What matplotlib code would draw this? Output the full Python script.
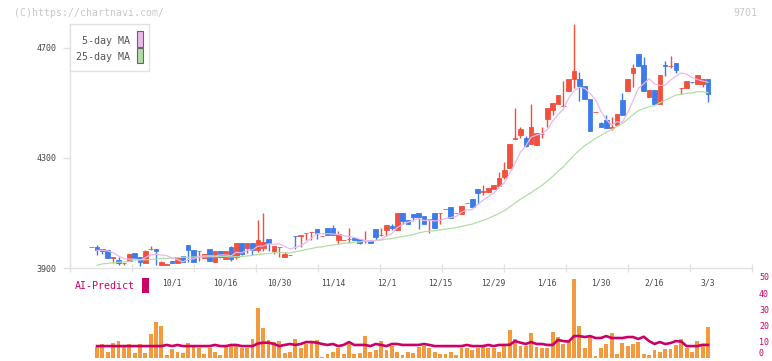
import matplotlib
matplotlib.use("Agg")
import matplotlib.pyplot as plt
import matplotlib.transforms as mtransforms
from matplotlib.patches import Rectangle
import numpy as np
import pandas as pd

# ---------------- data ----------------
opens = [3976, 3976, 3968, 3964, 3936, 3928, 3918, 3924, 3953, 3939,
         3918, 3968, 3969, 3911, 3912, 3924, 3918, 3942, 3982, 3964,
         3960, 3936, 3968, 3922, 3961, 3933, 3975, 3940, 3990, 3973,
         3990, 3964, 3974, 4004, 3962, 3976, 3940, 3948, 4017, 4017,
         4027, 4031, 4040, 4016, 4046, 4046, 4002, 4000, 4006, 4009,
         4004, 4000, 4000, 4040, 4020, 4038, 4052, 4038, 4099, 4073,
         4095, 4099, 4088, 4078, 4099, 4098, 4113, 4120, 4098, 4097,
         4135, 4149, 4186, 4177, 4175, 4186, 4196, 4230, 4263, 4370,
         4383, 4371, 4349, 4345, 4387, 4440, 4472, 4495, 4489, 4543,
         4585, 4587, 4562, 4513, 4466, 4425, 4436, 4410, 4421, 4509,
         4543, 4607, 4676, 4636, 4521, 4545, 4495, 4637, 4633, 4643,
         4554, 4553, 4576, 4568, 4568, 4588]
highs = [3978, 3982, 3968, 3964, 3939, 3939, 3919, 3952, 3955, 3939,
         3964, 3979, 3969, 3924, 3914, 3924, 3939, 3942, 3982, 3964,
         3961, 3950, 3968, 3961, 3961, 3961, 3979, 3990, 3990, 3990,
         3990, 4074, 4098, 4004, 3981, 3977, 3959, 3949, 4017, 4019,
         4028, 4032, 4040, 4017, 4046, 4055, 4033, 4001, 4046, 4009,
         4004, 4033, 4000, 4040, 4046, 4055, 4058, 4099, 4099, 4073,
         4095, 4099, 4088, 4079, 4099, 4099, 4114, 4120, 4099, 4124,
         4136, 4149, 4186, 4200, 4189, 4200, 4247, 4284, 4349, 4481,
         4412, 4378, 4495, 4389, 4411, 4480, 4498, 4530, 4578, 4585,
         4785, 4610, 4562, 4513, 4467, 4429, 4457, 4450, 4458, 4534,
         4585, 4639, 4676, 4665, 4545, 4545, 4599, 4650, 4668, 4643,
         4555, 4578, 4576, 4599, 4588, 4588]
lows = [3976, 3947, 3951, 3936, 3919, 3911, 3911, 3924, 3934, 3907,
        3918, 3967, 3911, 3911, 3911, 3917, 3918, 3922, 3922, 3922,
        3925, 3936, 3925, 3922, 3936, 3933, 3925, 3933, 3946, 3954,
        3947, 3958, 3962, 3962, 3950, 3940, 3940, 3948, 3970, 3976,
        4000, 4000, 4005, 4016, 4020, 4021, 3987, 4000, 3991, 4002,
        3987, 3991, 3991, 4000, 4015, 4015, 4038, 4038, 4061, 4061,
        4069, 4040, 4059, 4028, 4045, 4061, 4113, 4080, 4098, 4097,
        4135, 4120, 4131, 4164, 4175, 4186, 4196, 4222, 4263, 4370,
        4372, 4338, 4349, 4345, 4371, 4411, 4454, 4495, 4489, 4543,
        4552, 4506, 4513, 4397, 4466, 4411, 4408, 4400, 4414, 4457,
        4543, 4557, 4633, 4543, 4521, 4495, 4495, 4596, 4625, 4607,
        4532, 4553, 4570, 4568, 4557, 4503]
closes = [3978, 3965, 3960, 3936, 3939, 3917, 3919, 3950, 3936, 3922,
          3961, 3969, 3962, 3921, 3913, 3917, 3939, 3922, 3965, 3922,
          3961, 3950, 3925, 3961, 3940, 3961, 3933, 3990, 3950, 3990,
          3965, 4000, 3993, 3990, 3981, 3977, 3950, 3949, 4015, 4019,
          4028, 4032, 4027, 4017, 4020, 4021, 4023, 4001, 4007, 4002,
          3991, 4001, 3991, 4013, 4021, 4055, 4045, 4099, 4071, 4061,
          4085, 4085, 4059, 4079, 4045, 4099, 4114, 4080, 4099, 4124,
          4136, 4120, 4171, 4178, 4189, 4200, 4225, 4255, 4349, 4371,
          4403, 4342, 4411, 4389, 4388, 4480, 4498, 4530, 4490, 4585,
          4614, 4561, 4513, 4397, 4467, 4411, 4408, 4411, 4458, 4457,
          4585, 4628, 4633, 4543, 4545, 4495, 4599, 4635, 4634, 4618,
          4555, 4578, 4574, 4599, 4588, 4532]

# moving-average values at the start of the window (history before the first candle)
ma5_head = [3964, 3964, 3962]
ma25_head = [3910, 3915, 3917, 3919, 3921, 3922, 3924, 3929, 3930, 3930,
             3931, 3933, 3935, 3935, 3936, 3937, 3939, 3939, 3940, 3940,
             3940, 3941, 3941]

# volume and AI-Predict (from the 2nd candle onward)
volume = [6.4, 8.5, 3.5, 9.1, 10.3, 7.2, 8.5, 2.9, 8.5, 2.9,
          14.7, 22.1, 19.6, 1.7, 5.4, 3.5, 2.9, 9.1, 7.2, 6.0,
          2.3, 6.0, 3.5, 1.7, 6.6, 7.9, 7.2, 6.0, 6.0, 11.6,
          30.8, 18.4, 11.0, 9.7, 10.3, 2.9, 3.5, 11.6, 6.0, 8.5,
          9.7, 11.0, 0.4, 2.3, 3.5, 6.0, 2.3, 8.5, 2.3, 2.9,
          13.4, 3.5, 4.8, 10.3, 4.8, 7.2, 3.5, 1.7, 3.5, 2.9,
          6.6, 7.2, 6.0, 3.5, 2.3, 2.3, 3.5, 1.7, 6.0, 6.0,
          4.8, 6.0, 7.2, 6.0, 6.0, 3.5, 8.5, 17.1, 11.6, 7.2,
          7.2, 15.3, 6.6, 6.0, 6.0, 15.9, 12.8, 8.5, 9.7, 48.8,
          19.6, 6.0, 12.8, 1.0, 6.0, 8.5, 15.3, 2.3, 9.1, 7.2,
          8.5, 9.7, 2.3, 1.7, 4.8, 3.5, 5.4, 5.4, 7.9, 11.6,
          6.0, 3.5, 10.3, 7.9, 19.0]
ai_predict = [7.2, 7.2, 7.2, 7.2, 7.2, 7.2, 7.2, 7.2, 7.2, 7.2,
              7.2, 7.2, 7.2, 7.9, 7.2, 7.9, 7.2, 7.2, 7.2, 7.2,
              7.2, 7.2, 7.9, 7.2, 7.2, 7.9, 7.9, 7.2, 7.2, 7.2,
              8.8, 9.3, 9.3, 8.5, 7.2, 7.9, 8.5, 7.9, 8.5, 9.7,
              9.7, 9.3, 8.5, 7.9, 8.5, 7.2, 7.9, 9.7, 7.9, 7.9,
              7.9, 7.2, 8.5, 7.9, 7.2, 8.5, 8.5, 7.9, 7.9, 7.9,
              7.9, 8.5, 7.9, 7.2, 7.2, 7.2, 7.2, 7.2, 7.2, 7.9,
              7.2, 7.2, 7.2, 7.9, 7.2, 7.9, 7.9, 8.0, 10.3, 9.3,
              8.5, 9.7, 8.5, 8.5, 7.9, 7.9, 11.0, 10.3, 10.0, 13.4,
              13.4, 12.8, 13.4, 12.2, 12.2, 13.4, 12.2, 12.2, 12.2, 12.8,
              12.8, 11.6, 13.0, 10.3, 8.5, 9.7, 8.5, 9.1, 10.3, 10.0,
              7.2, 7.2, 7.2, 8.0, 7.9]

tick_labels = ["10/1", "10/16", "10/30", "11/14", "12/1", "12/15",
               "12/29", "1/16", "1/30", "2/16", "3/3"]
tick_candle = [15, 25, 35, 45, 55, 65, 75, 85, 95, 105, 115]
price_ticks = [3900, 4300, 4700]
vol_ticks = [0, 10, 20, 30, 40, 50]

# ---------------- styling ----------------
RED = "#F2503F"
BLUE = "#3D7CE8"
PINK = "#EBB8EE"
GREEN = "#B3DDA8"
CRIMSON = "#CC0066"
ORANGE = "#F39A3E"
AXIS = "#E2E2E2"
TXT = "#555555"

plt.rcParams['font.family'] = ['DejaVu Sans Mono', 'DejaVu Sans']

W, H = 772, 361
fig = plt.figure(figsize=(W / 100, H / 100), dpi=100)


def px_axes(x0, y0, x1, y1):
    return fig.add_axes([x0 / W, 1 - y1 / H, (x1 - x0) / W, (y1 - y0) / H])


def fx(x):
    return x / W


def fy(y):
    return 1 - y / H


o = np.array(opens, float)
h = np.array(highs, float)
l = np.array(lows, float)
c = np.array(closes, float)
n = len(c)
idx = np.arange(n)
XLIM = (-4.05, 123.2)

# ---------------- volume / AI panel (drawn first, transparent) ----------------
vx = px_axes(70, 277, 752, 357.7)
vx.patch.set_visible(False)
vx.set_xlim(*XLIM)
vx.set_ylim(0, 50)
vx.bar(idx[1:], volume, width=0.72, color=ORANGE, zorder=2)
vx.plot(idx[1:], ai_predict, color=CRIMSON, lw=1.9, zorder=3,
        solid_joinstyle="round")
for s in vx.spines.values():
    s.set_visible(False)
vx.set_xticks([])
vx.yaxis.tick_right()
vx.set_yticks(vol_ticks)
vx.set_yticklabels([str(v) for v in vol_ticks])
vx.tick_params(axis="y", length=0, labelsize=6, labelcolor=CRIMSON, pad=5)
vx.get_yticklabels()[0].set_va("bottom")

# ---------------- price panel ----------------
ax = px_axes(70, 24, 752, 268)
ax.patch.set_visible(False)
ax.set_xlim(*XLIM)
ax.set_ylim(3900, 4786)

cols = [RED if cc >= oo else BLUE for oo, cc in zip(o, c)]
ax.vlines(idx, l, h, colors=cols, lw=1.0, zorder=2)
ax.bar(idx, np.abs(c - o), bottom=np.minimum(o, c), width=0.86,
       color=cols, edgecolor=cols, linewidth=0.6, zorder=3)

cs = pd.Series(c)
ma5 = cs.rolling(5).mean().to_numpy()
ma5[1:1 + len(ma5_head)] = ma5_head
ma25 = cs.rolling(25).mean().to_numpy()
ma25[1:1 + len(ma25_head)] = ma25_head
ax.plot(idx[1:], ma25[1:], color=GREEN, lw=0.9, zorder=4)
ax.plot(idx[1:], ma5[1:], color=PINK, lw=0.9, zorder=4)

for s in ("top", "right"):
    ax.spines[s].set_visible(False)
for s in ("left", "bottom"):
    ax.spines[s].set_color(AXIS)
    ax.spines[s].set_linewidth(1.0)

ax.set_yticks(price_ticks)
ax.set_yticklabels([str(v) for v in price_ticks])
ax.tick_params(axis="y", length=5, width=1, color=AXIS, labelsize=6,
               labelcolor="#444444", pad=5)
grid_x = np.linspace(XLIM[0], XLIM[1], 12)
ax.set_xticks(grid_x)
ax.set_xticklabels([])
ax.tick_params(axis="x", direction="inout", length=6, width=1, color=AXIS)

tr = mtransforms.blended_transform_factory(ax.transData, fig.transFigure)
for lab, ci in zip(tick_labels, tick_candle):
    ax.text(ci, fy(282.5), lab, transform=tr, ha="center", va="center",
            fontsize=5.8, color="#444444", clip_on=False, zorder=10)

# legend box
fig.patches.append(Rectangle((fx(70.3), fy(71.3)), fx(148.7) - fx(70.3),
                             fy(24.3) - fy(71.3), transform=fig.transFigure,
                             facecolor="white", edgecolor=AXIS, lw=1.0, zorder=5))
fig.text(fx(129.5), fy(40.5), "5-day MA", ha="right", va="center",
         fontsize=7.2, color=TXT, zorder=6)
fig.text(fx(129.5), fy(57), "25-day MA", ha="right", va="center",
         fontsize=7.2, color=TXT, zorder=6)
fig.patches.append(Rectangle((fx(136.5), fy(46.5)), fx(6), fy(31) - fy(46.5),
                             transform=fig.transFigure, facecolor=PINK,
                             edgecolor="#666666", lw=0.8, zorder=6))
fig.patches.append(Rectangle((fx(136.5), fy(63.3)), fx(6), fy(48.3) - fy(63.3),
                             transform=fig.transFigure, facecolor=GREEN,
                             edgecolor="#666666", lw=0.8, zorder=6))

# watermark / code
fig.text(fx(14), fy(12.5), "(C)https://chartnavi.com/", ha="left", va="center",
         fontsize=7.1, color="#C8C8C8")
fig.text(fx(757), fy(12.5), "9701", ha="right", va="center",
         fontsize=7.1, color="#C8C8C8")

fig.text(fx(75), fy(286), "AI-Predict", ha="left", va="center",
         fontsize=7.2, color=CRIMSON)
fig.patches.append(Rectangle((fx(142), fy(293)), fx(6.5), fy(278) - fy(293),
                             transform=fig.transFigure, facecolor=CRIMSON,
                             edgecolor="none"))

fig.savefig("out.png", dpi=100)
